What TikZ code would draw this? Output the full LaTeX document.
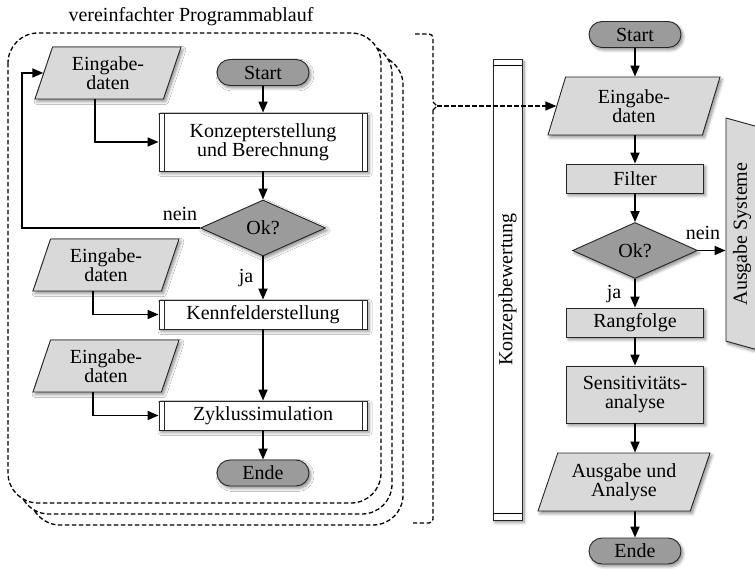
\documentclass[tikz,border=0pt]{standalone}
\usepackage{fontspec}
\setmainfont{Liberation Serif}
\usetikzlibrary{shapes.geometric,shapes.misc,arrows.meta,shadows.blur,calc}

\definecolor{termgray}{HTML}{9B9B9B}
\definecolor{datagray}{HTML}{D9D9D9}

\begin{document}
\begin{tikzpicture}[x=1pt,y=-1pt,
  font=\fontsize{20}{19}\selectfont,
  every node/.style={align=center},
  softshadow/.style={blur shadow={shadow xshift=2pt,shadow yshift=-2.5pt,
      shadow blur steps=6,shadow blur radius=3pt,shadow opacity=45}},
  base/.style={draw=black!85,line width=0.9pt,inner sep=0pt},
  term/.style={base,softshadow,shape=rounded rectangle,fill=termgray,
      minimum width=92pt,minimum height=26pt},
  iodata/.style={base,softshadow,trapezium,trapezium left angle=62,trapezium right angle=118,
      trapezium stretches body,fill=datagray,minimum width=146pt,minimum height=52pt},
  iodatab/.style={iodata,minimum width=172pt,minimum height=58pt},
  process/.style={base,softshadow,fill=white,minimum width=208pt,
      path picture={
        \draw[line width=0.6pt]
          ([xshift=5pt]path picture bounding box.north west) --
          ([xshift=5pt]path picture bounding box.south west)
          ([xshift=-5pt]path picture bounding box.north east) --
          ([xshift=-5pt]path picture bounding box.south east);}},
  decision/.style={base,softshadow,diamond,aspect=2.2,fill=termgray,
      minimum width=125pt,minimum height=56pt},
  opbox/.style={base,softshadow,fill=datagray,minimum width=137pt},
  conn/.style={line width=1.7pt,-{Triangle[length=11pt,width=9pt]}},
  dashline/.style={line width=1.3pt,dash pattern=on 4.5pt off 2.5pt},
  dashframe/.style={dashline,fill=white,rounded corners=30pt}]

\useasboundingbox (0,0) rectangle (755,569);

% ---------- left part: simplified program flow ----------
\node (title) at (191,17) {vereinfachter Programmablauf};

\draw[dashframe] (30,55) rectangle (403,525);
\draw[dashframe] (19,44) rectangle (392,514);
\draw[dashframe] (8,33) rectangle (381,503);

\node[iodata]  (e1)  at (108,73)    {Eingabe-\\daten};
\node[term]    (st1) at (263,72.5)  {Start};
\node[process,minimum height=58pt] (k1) at (263,142) {Konzepterstellung\\und Berechnung};
\node[decision] (ok1) at (263,228)  {Ok?};
\node[iodata]  (e2)  at (106,265)   {Eingabe-\\daten};
\node[process,minimum height=29pt] (k2) at (263,314.5) {Kennfelderstellung};
\node[iodata]  (e3)  at (106,366)   {Eingabe-\\daten};
\node[process,minimum height=29pt] (k3) at (263,415.5) {Zyklussimulation};
\node[term]    (en1) at (263,473)   {Ende};

\node (nein1) at (180,214) {nein};
\node (ja1)   at (246,278) {ja};

\draw[conn] (st1) -- (k1);
\draw[conn] (k1) -- (ok1);
\draw[conn] (ok1.west) -- ++(-178,0) |- (e1.west);
\draw[conn] ([xshift=-13pt]e1.south) |- (k1.west);
\draw[conn] (ok1) -- (k2);
\draw[conn] ([xshift=-13pt]e2.south) |- (k2.west);
\draw[conn] (k2) -- (k3);
\draw[conn] ([xshift=-13pt]e3.south) |- (k3.west);
\draw[conn] (k3) -- (en1);

% ---------- brace gathering the variants ----------
\coordinate (btop) at (415,34);
\coordinate (btip) at (437,106);
\coordinate (bbot) at (413,523);
\draw[dashline,rounded corners=4pt] (btop) -- (433,34) -- (433,102);
\draw[dashline] (433,102) -- (btip) -- (433,110);
\draw[dashline,rounded corners=4pt] (433,110) -- (433,523) -- (bbot);

% ---------- concept evaluation bar ----------
\node[base,softshadow,fill=white,minimum width=29pt,minimum height=461pt]
  (kb) at (507.5,289.5) {\rotatebox{90}{Konzeptbewertung}};
\draw[line width=0.6pt] ($(kb.north west)+(0,7)$) -- ($(kb.north east)+(0,7)$);
\draw[line width=0.6pt] ($(kb.south west)+(0,-7)$) -- ($(kb.south east)+(0,-7)$);

% ---------- right part: evaluation flow ----------
\node[term]    (st2) at (635,34.5)  {Start};
\node[iodatab] (e4)  at (634,106)   {Eingabe-\\daten};
\node[opbox,minimum height=29pt] (fi) at (635,178.5) {Filter};
\node[decision] (ok2) at (635,250.5) {Ok?};
\node[opbox,minimum height=29pt] (rf) at (635,322.5) {Rangfolge};
\node[opbox,minimum height=57pt] (sa) at (635,394.5) {Sensitivitäts-\\analyse};
\node[iodatab] (aa)  at (624,482)   {Ausgabe und\\Analyse};
\node[term]    (en2) at (635,551)   {Ende};

\node[base,softshadow,trapezium,trapezium left angle=64,trapezium right angle=116,
  trapezium stretches body,fill=datagray,rotate=90,
  minimum width=232pt,minimum height=32pt] (as) at (742,234) {Ausgabe Systeme};

\node (nein2) at (703,233) {nein};
\node (ja2)   at (614,294) {ja};

\draw[conn,dashline] (btip) -- (btip -| e4.west);
\draw[conn] (st2) -- (st2 |- e4.north);
\draw[conn] (e4.south -| st2) -- (fi);
\draw[conn] (fi) -- (ok2);
\draw[conn] (ok2.east) -- (ok2.east -| as.north);
\draw[conn] (ok2) -- (rf);
\draw[conn] (rf) -- (sa);
\draw[conn] (sa) -- (sa |- aa.north);
\draw[conn] (aa.south -| en2) -- (en2);
\end{tikzpicture}
\end{document}
